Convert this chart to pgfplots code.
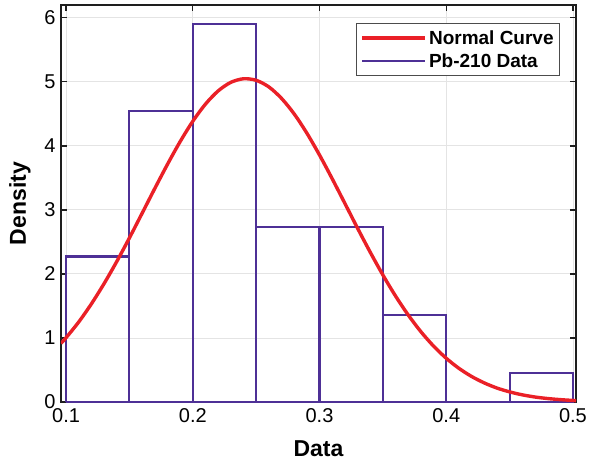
\documentclass[border=0pt]{standalone}
\usepackage{fontspec}
\setmainfont{Liberation Sans}
\usepackage{pgfplots}
\pgfplotsset{compat=1.18}
\definecolor{curvered}{RGB}{234,32,39}
\definecolor{barpurple}{RGB}{78,48,150}
\definecolor{gridgray}{RGB}{228,228,228}
\definecolor{axisblack}{RGB}{30,30,30}
\begin{document}
\begin{tikzpicture}
\useasboundingbox (-61pt,-61pt) rectangle (533pt,402pt);
\begin{axis}[
    at={(0,0)}, anchor=south west,
    scale only axis,
    width=515pt, height=397pt,
    xmin=0.096, xmax=0.5024,
    ymin=0, ymax=6.2,
    xtick={0.1,0.2,0.3,0.4,0.5},
    ytick={0,1,2,3,4,5,6},
    tick align=inside,
    major tick length=6pt,
    every tick/.style={axisblack, line width=1.3pt},
    axis line style={axisblack, line width=2.2pt},
    grid=major,
    major grid style={gridgray, line width=0.9pt},
    tick label style={font=\fontsize{20}{24}\selectfont,
        /pgf/number format/assume math mode=true},
    xticklabel style={yshift=-3pt},
    yticklabel style={xshift=-2pt},
    xlabel={Data},
    ylabel={Density},
    label style={font=\fontsize{23}{27}\selectfont\bfseries},
    xlabel style={at={(axis description cs:0.5,-0.117)}, anchor=center},
    ylabel style={at={(axis description cs:-0.0796,0.5)}, anchor=center},
    legend style={at={(axis description cs:0.969,0.955)}, anchor=north east,
        draw=black!70, line width=0.8pt,
        font=\fontsize{19}{23}\selectfont\bfseries,
        inner xsep=4pt, inner ysep=5pt, row sep=4pt},
    legend cell align=left,
    legend image code/.code={\draw[#1] (0pt,0pt) -- (63pt,0pt);},
    bar/.style={barpurple, line width=2.1pt, line join=miter, forget plot},
]

% histogram, 44 samples, bin width 0.05 (density = count / (44*0.05))
\addplot[bar] coordinates {(0.10,0) (0.10,2.2727) (0.15,2.2727) (0.15,0) (0.10,0)};
\addplot[bar] coordinates {(0.15,0) (0.15,4.5455) (0.20,4.5455) (0.20,0) (0.15,0)};
\addplot[bar] coordinates {(0.20,0) (0.20,5.9091) (0.25,5.9091) (0.25,0) (0.20,0)};
\addplot[bar] coordinates {(0.25,0) (0.25,2.7273) (0.30,2.7273) (0.30,0) (0.25,0)};
\addplot[bar] coordinates {(0.30,0) (0.30,2.7273) (0.35,2.7273) (0.35,0) (0.30,0)};
\addplot[bar] coordinates {(0.35,0) (0.35,1.3636) (0.40,1.3636) (0.40,0) (0.35,0)};
\addplot[bar] coordinates {(0.40,0) (0.45,0)};
\addplot[bar] coordinates {(0.45,0) (0.45,0.4545) (0.50,0.4545) (0.50,0) (0.45,0)};

% fitted normal curve
\addplot[curvered, line width=3.4pt, smooth, forget plot]
    coordinates {
    (0.096, 0.916)
    (0.10, 1.004)
    (0.11, 1.250)
    (0.12, 1.533)
    (0.13, 1.849)
    (0.14, 2.194)
    (0.15, 2.563)
    (0.16, 2.947)
    (0.17, 3.334)
    (0.18, 3.711)
    (0.19, 4.066)
    (0.20, 4.384)
    (0.21, 4.652)
    (0.22, 4.858)
    (0.23, 4.992)
    (0.24, 5.048)
    (0.25, 5.024)
    (0.26, 4.921)
    (0.27, 4.742)
    (0.28, 4.499)
    (0.29, 4.199)
    (0.30, 3.857)
    (0.31, 3.487)
    (0.32, 3.102)
    (0.33, 2.715)
    (0.34, 2.340)
    (0.35, 1.984)
    (0.36, 1.655)
    (0.37, 1.359)
    (0.38, 1.098)
    (0.39, 0.873)
    (0.40, 0.683)
    (0.41, 0.526)
    (0.42, 0.399)
    (0.43, 0.298)
    (0.44, 0.218)
    (0.45, 0.158)
    (0.46, 0.112)
    (0.47, 0.078)
    (0.48, 0.054)
    (0.49, 0.037)
    (0.50, 0.024)
    (0.5024, 0.022)
    };

\addlegendimage{curvered, line width=3.4pt}
\addlegendentry{Normal Curve}
\addlegendimage{barpurple, line width=2.4pt}
\addlegendentry{Pb-210 Data}

\end{axis}
\end{tikzpicture}
\end{document}
